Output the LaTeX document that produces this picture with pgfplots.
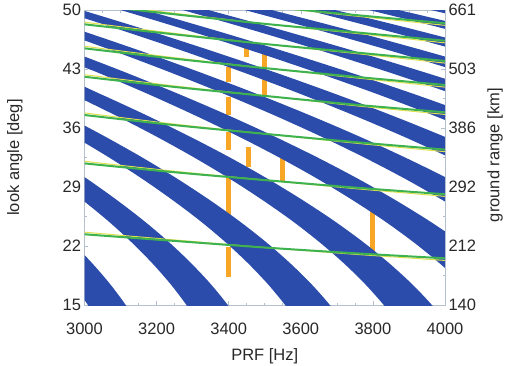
\documentclass[border=0pt]{standalone}
\usepackage{pgfplots}
\pgfplotsset{compat=1.18}
\usepackage{fontspec}
\setmainfont{Liberation Sans}
\definecolor{bandblue}{RGB}{43,76,170}
\definecolor{nadgreen}{RGB}{62,178,78}
\definecolor{nadyellow}{RGB}{225,225,80}
\definecolor{orangebar}{RGB}{247,166,38}
\definecolor{axisgray}{RGB}{180,192,206}
\definecolor{labelgray}{RGB}{40,40,40}
\begin{document}
\begin{tikzpicture}
\path[use as bounding box] (-84.5pt,-60pt) rectangle (420.5pt,305pt);
\begin{axis}[at={(0pt,0pt)}, anchor=south west, scale only axis,
  width=360.5pt, height=295pt,
  xmin=3000, xmax=4000, ymin=15, ymax=50,
  xtick={3000,3200,3400,3600,3800,4000}, xticklabels={3000,3200,3400,3600,3800,4000},
  ytick={15,22,29,36,43,50}, yticklabels={15,22,29,36,43,50},
  minor x tick num=3, minor y tick num=1,
  tick align=inside, major tick length=4pt, minor tick length=2.5pt,
  every tick/.style={axisgray, line width=0.6pt},
  axis line style={axisgray, line width=0.8pt},
  ticklabel style={font=\fontsize{16.5}{18}\selectfont, text=labelgray},
  xticklabel style={yshift=-14pt},
  xlabel={PRF [Hz]}, ylabel={look angle [deg]},
  label style={font=\fontsize{16.5}{18}\selectfont, text=labelgray},
  xlabel style={at={(axis description cs:0.5,0)}, anchor=center, yshift=-51pt},
  ylabel style={at={(axis description cs:-0.193,0.5)}, anchor=center},
  no markers, clip=true]

% orange swath bars
\addplot[orangebar, line width=5pt] coordinates {(3400,41.49) (3400,43.27)};
\addplot[orangebar, line width=5pt] coordinates {(3400,37.54) (3400,39.71)};
\addplot[orangebar, line width=5pt] coordinates {(3400,33.39) (3400,35.56)};
\addplot[orangebar, line width=5pt] coordinates {(3400,25.68) (3400,30.07)};
\addplot[orangebar, line width=5pt] coordinates {(3400,18.32) (3400,21.88)};
\addplot[orangebar, line width=5pt] coordinates {(3450,44.45) (3450,45.45)};
\addplot[orangebar, line width=5pt] coordinates {(3455,31.40) (3455,33.80)};
\addplot[orangebar, line width=5pt] coordinates {(3500,39.70) (3500,44.90)};
\addplot[orangebar, line width=5pt] coordinates {(3550,29.60) (3550,32.60)};
\addplot[orangebar, line width=5pt] coordinates {(3800,21.30) (3800,26.10)};

% blind-range bands
\addplot[draw=none, fill=bandblue, smooth] coordinates {(3043.9,12.5) (3009.3,15) (2968.5,17.5) (2921.4,20) (2868.4,22.5) (2831.0,27.5) (2900.6,25) (2963.7,22.5) (3020.3,20) (3070.7,17.5) (3114.3,15) (3151.4,12.5)};
\addplot[draw=none, fill=bandblue, smooth] coordinates {(3320.6,12.5) (3282.8,15) (3238.3,17.5) (3187.0,20) (3129.1,22.5) (3064.7,25) (2993.3,27.5) (2916.1,30) (2832.2,32.5) (2821.3,35) (2917.1,32.5) (3006.1,30) (3088.3,27.5) (3164.3,25) (3233.2,22.5) (3294.8,20) (3349.8,17.5) (3397.4,15) (3437.9,12.5)};
\addplot[draw=none, fill=bandblue, smooth] coordinates {(3597.4,12.5) (3556.4,15) (3508.2,17.5) (3452.5,20) (3389.9,22.5) (3320.1,25) (3242.7,27.5) (3159.1,30) (3068.3,32.5) (2970.4,35) (2865.6,37.5) (2828.0,40) (2945.7,37.5) (3056.4,35) (3160.2,32.5) (3256.6,30) (3345.7,27.5) (3428.0,25) (3502.6,22.5) (3569.4,20) (3629.0,17.5) (3680.6,15) (3724.4,12.5)};
\addplot[draw=none, fill=bandblue, smooth] coordinates {(3874.1,12.5) (3830.0,15) (3778.0,17.5) (3718.1,20) (3650.6,22.5) (3575.5,25) (3492.2,27.5) (3402.1,30) (3304.3,32.5) (3198.9,35) (3086.0,37.5) (2966.0,40) (2838.5,42.5) (2911.3,42.5) (3045.6,40) (3172.3,37.5) (3291.5,35) (3403.3,32.5) (3507.1,30) (3603.0,27.5) (3691.7,25) (3772.0,22.5) (3844.0,20) (3908.1,17.5) (3963.7,15) (4010.9,12.5)};
\addplot[draw=none, fill=bandblue, smooth] coordinates {(4150.8,12.5) (4103.6,15) (4047.9,17.5) (3983.7,20) (3911.4,22.5) (3830.9,25) (3741.6,27.5) (3645.2,30) (3540.3,32.5) (3427.4,35) (3306.5,37.5) (3177.9,40) (3041.3,42.5) (2896.8,45) (2807.6,47.5) (2967.5,45) (3119.3,42.5) (3263.1,40) (3398.9,37.5) (3526.7,35) (3646.4,32.5) (3757.7,30) (3860.4,27.5) (3955.4,25) (4041.5,22.5) (4118.6,20) (4187.3,17.5) (4246.8,15) (4297.4,12.5)};
\addplot[draw=none, fill=bandblue, smooth] coordinates {(4086.2,25) (3991.0,27.5) (3888.2,30) (3776.3,32.5) (3655.8,35) (3526.9,37.5) (3389.8,40) (3244.0,42.5) (3089.9,45) (2927.0,47.5) (2755.4,50) (2815.2,50) (2994.7,47.5) (3165.3,45) (3327.2,42.5) (3480.6,40) (3625.4,37.5) (3761.8,35) (3889.4,32.5) (4008.2,30) (4117.8,27.5) (4219.0,25)};
\addplot[draw=none, fill=bandblue, smooth] coordinates {(4131.2,30) (4012.3,32.5) (3884.3,35) (3747.3,37.5) (3601.6,40) (3446.8,42.5) (3283.0,45) (3110.0,47.5) (2927.6,50) (2735.3,52.5) (2790.7,52.5) (2991.2,50) (3181.9,47.5) (3363.1,45) (3535.2,42.5) (3698.2,40) (3852.0,37.5) (3996.9,35) (4132.5,32.5) (4258.7,30)};
\addplot[draw=none, fill=bandblue, smooth] coordinates {(4248.4,32.5) (4112.8,35) (3967.7,37.5) (3813.5,40) (3649.5,42.5) (3476.2,45) (3292.9,47.5) (3099.8,50) (2896.2,52.5) (2954.9,52.5) (3167.1,50) (3369.1,47.5) (3560.9,45) (3743.1,42.5) (3915.7,40) (4078.6,37.5) (4232.0,35) (4375.6,32.5)};
\addplot[draw=none, fill=bandblue, smooth] coordinates {(4341.3,35) (4188.2,37.5) (4025.3,40) (3852.3,42.5) (3669.3,45) (3475.9,47.5) (3272.0,50) (3057.1,52.5) (3119.0,52.5) (3343.1,50) (3556.2,47.5) (3758.8,45) (3951.1,42.5) (4133.3,40) (4305.2,37.5) (4467.1,35)};
\addplot[draw=none, fill=bandblue, smooth] coordinates {(4408.6,37.5) (4237.2,40) (4055.0,42.5) (3862.4,45) (3658.8,47.5) (3444.2,50) (3218.0,52.5) (3283.2,52.5) (3519.0,50) (3743.4,47.5) (3956.6,45) (4159.0,42.5) (4350.8,40) (4531.8,37.5)};
\addplot[draw=none, fill=bandblue, smooth] coordinates {(4449.1,40) (4257.8,42.5) (4055.5,45) (3841.7,47.5) (3616.4,50) (3378.9,52.5) (3447.4,52.5) (3695.0,50) (3930.6,47.5) (4154.4,45) (4367.0,42.5) (4568.3,40)};
\addplot[draw=none, fill=bandblue, smooth] coordinates {(4460.5,42.5) (4248.6,45) (4024.7,47.5) (3788.6,50) (3539.8,52.5) (3611.5,52.5) (3870.9,50) (4117.7,47.5) (4352.3,45) (4574.9,42.5)};
\addplot[draw=none, fill=bandblue, smooth] coordinates {(4441.8,45) (4207.6,47.5) (3960.8,50) (3700.7,52.5) (3775.7,52.5) (4046.9,50) (4305.0,47.5) (4550.1,45)};

% nadir echo lines: thin yellow companion under the green line
\addplot[nadyellow, line width=1pt, smooth] coordinates {(3000,23.64) (3250,22.72) (3500,21.82) (3750,21.02) (4000,20.29)};
\addplot[nadyellow, line width=1pt, smooth] coordinates {(3000,32.05) (3250,30.87) (3500,29.82) (3750,28.81) (4000,27.89)};
\addplot[nadyellow, line width=1pt, smooth] coordinates {(3000,37.79) (3250,36.46) (3500,35.31) (3750,34.21) (4000,33.19)};
\addplot[nadyellow, line width=1pt, smooth] coordinates {(3000,42.33) (3250,40.99) (3500,39.81) (3750,38.65) (4000,37.61)};
\addplot[nadyellow, line width=1pt, smooth] coordinates {(3000,45.70) (3250,44.34) (3500,43.11) (3750,41.96) (4000,40.85)};
\addplot[nadyellow, line width=1pt, smooth] coordinates {(3000,48.55) (3250,47.23) (3500,45.97) (3750,44.85) (4000,43.70)};
\addplot[nadyellow, line width=1pt, smooth] coordinates {(3000,50.92) (3250,49.61) (3500,48.36) (3750,47.24) (4000,46.10)};
\addplot[nadyellow, line width=1pt, smooth] coordinates {(3250,51.64) (3500,50.44) (3750,49.29) (4000,48.18)};

\addplot[nadgreen, line width=2pt, smooth] coordinates {(3000,23.39) (3250,22.60) (3500,21.82) (3750,21.14) (4000,20.54)};
\addplot[nadgreen, line width=2pt, smooth] coordinates {(3000,31.80) (3250,30.75) (3500,29.82) (3750,28.93) (4000,28.14)};
\addplot[nadgreen, line width=2pt, smooth] coordinates {(3000,37.54) (3250,36.34) (3500,35.31) (3750,34.33) (4000,33.44)};
\addplot[nadgreen, line width=2pt, smooth] coordinates {(3000,42.08) (3250,40.87) (3500,39.81) (3750,38.77) (4000,37.86)};
\addplot[nadgreen, line width=2pt, smooth] coordinates {(3000,45.45) (3250,44.22) (3500,43.11) (3750,42.08) (4000,41.10)};
\addplot[nadgreen, line width=2pt, smooth] coordinates {(3000,48.30) (3250,47.11) (3500,45.97) (3750,44.97) (4000,43.95)};
\addplot[nadgreen, line width=2pt, smooth] coordinates {(3000,50.67) (3250,49.49) (3500,48.36) (3750,47.36) (4000,46.35)};
\addplot[nadgreen, line width=2pt, smooth] coordinates {(3250,51.52) (3500,50.44) (3750,49.41) (4000,48.43)};
\end{axis}

\begin{axis}[at={(0pt,0pt)}, anchor=south west, scale only axis,
  width=360.5pt, height=295pt,
  xmin=3000, xmax=4000, ymin=15, ymax=50,
  axis x line=none, axis y line*=right,
  ytick={15,22,29,36,43,50}, yticklabels={140,212,292,386,503,661},
  major tick length=0pt,
  axis line style={axisgray, line width=0.8pt},
  ticklabel style={font=\fontsize{16.5}{18}\selectfont, text=labelgray},
  ylabel={ground range [km]},
  label style={font=\fontsize{16.5}{18}\selectfont, text=labelgray},
  ylabel style={at={(axis description cs:1.1387,0.508)}, anchor=center}]
\addplot[draw=none] coordinates {(3000,15) (4000,50)};
\end{axis}
\end{tikzpicture}
\end{document}
